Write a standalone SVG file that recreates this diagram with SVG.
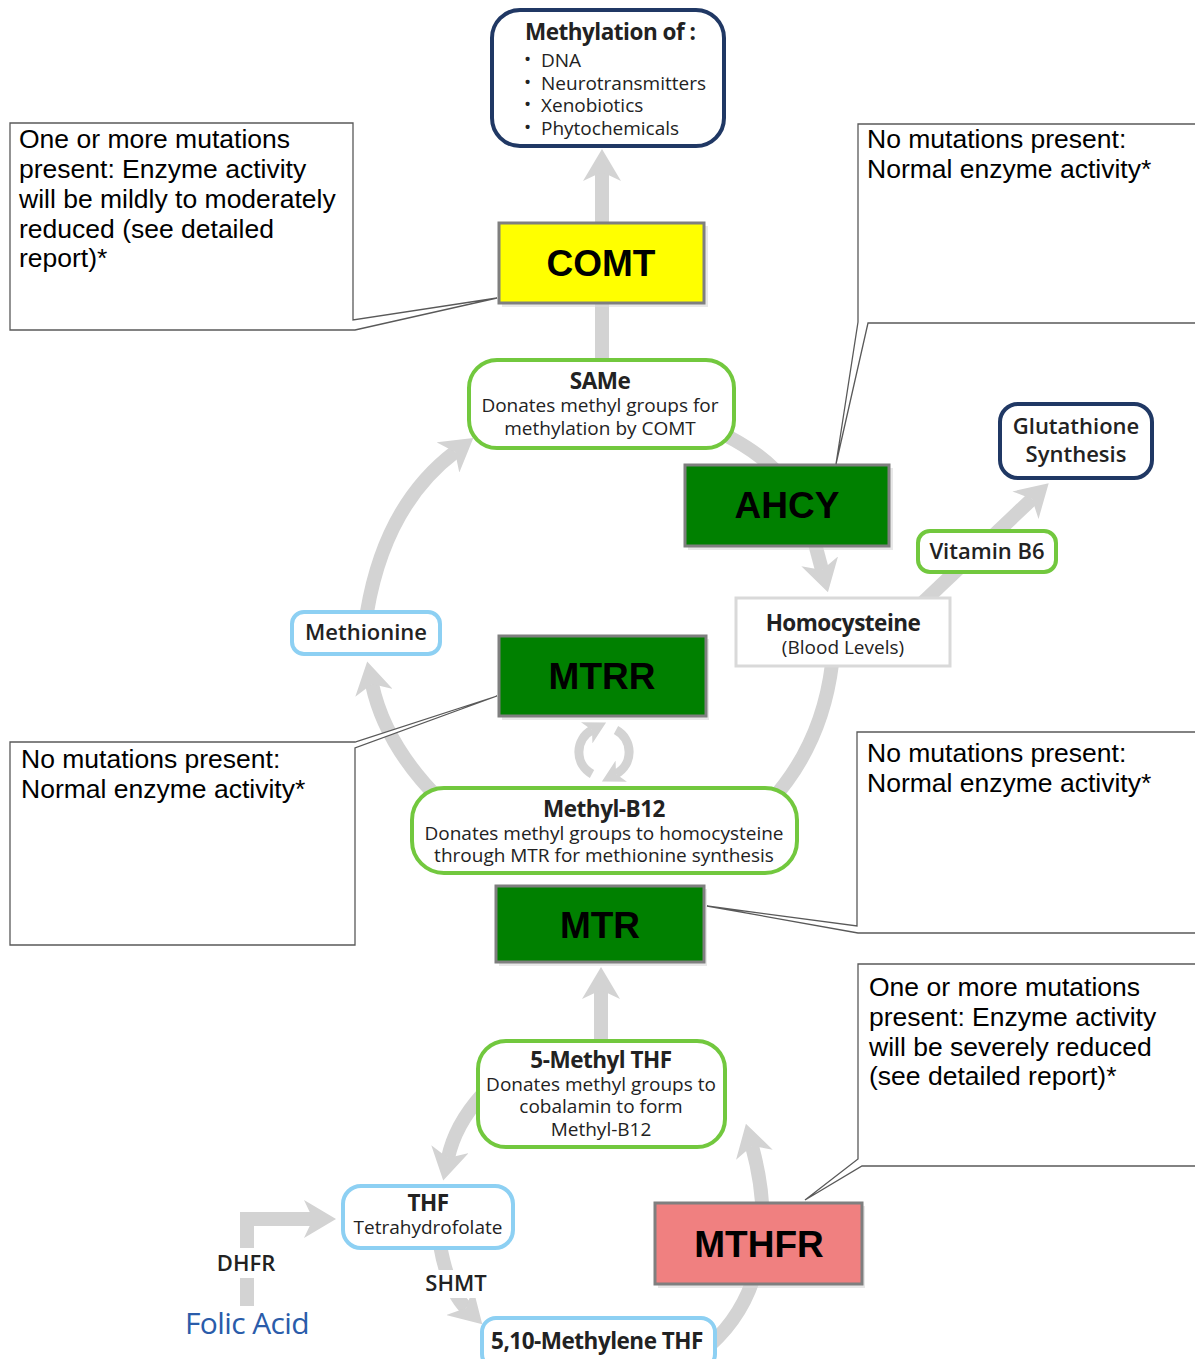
<svg xmlns="http://www.w3.org/2000/svg" width="1195" height="1359" viewBox="0 0 1195 1359">
<defs>
<marker id="ah" markerUnits="userSpaceOnUse" markerWidth="32" markerHeight="38" viewBox="0 0 32 38" refX="9" refY="19" orient="auto">
<path d="M0,0 L32,19 L0,38 L9,19 Z" fill="#d3d3d3"/>
</marker>
<marker id="ahs" markerUnits="userSpaceOnUse" markerWidth="22" markerHeight="24" viewBox="0 0 22 24" refX="6" refY="12" orient="auto">
<path d="M0,0 L22,12 L0,24 L6,12 Z" fill="#d3d3d3"/>
</marker>
</defs>
<style>
.arr{fill:none;stroke:#d3d3d3;stroke-width:14}
.cyc{fill:none;stroke:#d3d3d3;stroke-width:9}
.navy{fill:#fff;stroke:#203864;stroke-width:4}
.grn{fill:#fff;stroke:#72c83e;stroke-width:4}
.blue{fill:#fff;stroke:#8dd0f3;stroke-width:4}
.enz{stroke:#7f7f7f;stroke-width:3}
.shd{fill:#d9d9d9;opacity:0.6}
.et{font-family:"Liberation Sans",Arial,sans-serif;font-weight:700;font-size:37px;fill:#000;text-anchor:middle}
.t{font-family:"Open Sans","Noto Sans",sans-serif;fill:#222;text-anchor:middle}
.l{text-anchor:start}
.b{font-weight:700;font-size:22.5px;letter-spacing:-0.5px}
.s{font-size:19px}
.m{font-weight:600;font-size:22px}
.co{fill:#fff;stroke:#595959;stroke-width:1.3}
.ct{font-family:"Liberation Sans",Arial,sans-serif;font-size:26.5px;fill:#000}
</style>

<g id="connectors">
<path class="arr" d="M602,222 L602,172" marker-end="url(#ah)"/>
<path class="arr" d="M602,303 L602,362"/>
<path class="arr" d="M690,420 Q745,440 775,470"/>
<path class="arr" d="M814,540 L822,570" marker-end="url(#ah)"/>
<path class="arr" d="M918,607 L1032,499" marker-end="url(#ah)"/>
<path class="arr" d="M832,664 Q822,745 770,802"/>
<path class="arr" d="M440,800 Q385,745 372,684" marker-end="url(#ah)"/>
<path class="arr" d="M367,612 Q385,505 455,452" marker-end="url(#ah)"/>
<path class="cyc" d="M592,774 A25,25 0 0 1 592,730" marker-end="url(#ahs)"/>
<path class="cyc" d="M616,730 A25,25 0 0 1 616,774" marker-end="url(#ahs)"/>
<path class="arr" d="M601,1042 L601,990" marker-end="url(#ah)"/>
<path class="arr" d="M482,1095 Q455,1125 448,1158" marker-end="url(#ah)"/>
<path class="arr" d="M440,1245 Q448,1290 466,1308" marker-end="url(#ah)"/>
<path class="arr" d="M247,1306 L247,1219 L313,1219" marker-end="url(#ah)"/>
<path class="arr" d="M710,1345 C760,1300 775,1230 752,1146" marker-end="url(#ah)"/>
<rect x="212" y="1248" width="70" height="30" fill="#fff"/>
<text class="t m" x="246" y="1271" font-size="21">DHFR</text>
<rect x="422" y="1270" width="68" height="28" fill="#fff"/>
<text class="t m" x="456" y="1291" font-size="21">SHMT</text>
</g>

<g id="methylation">
<rect class="navy" x="492" y="10" width="232" height="136" rx="28"/>
<text class="t b l" x="525" y="40">Methylation of :</text>
<text class="t s l" x="524" y="66">•</text><text class="t s l" x="541" y="67">DNA</text>
<text class="t s l" x="524" y="89">•</text><text class="t s l" x="541" y="90">Neurotransmitters</text>
<text class="t s l" x="524" y="111">•</text><text class="t s l" x="541" y="112">Xenobiotics</text>
<text class="t s l" x="524" y="134">•</text><text class="t s l" x="541" y="135">Phytochemicals</text>
</g>

<g id="comt">
<rect class="shd" x="502" y="226" width="206" height="81"/>
<rect class="enz" x="499" y="223" width="205" height="80" fill="#ffff00"/>
<text class="et" x="601" y="276">COMT</text>
</g>

<g id="same">
<rect class="grn" x="469" y="360" width="265" height="88" rx="28"/>
<text class="t b" x="600" y="389">SAMe</text>
<text class="t s" x="600" y="412">Donates methyl groups for</text>
<text class="t s" x="600" y="435">methylation by COMT</text>
</g>

<g id="ahcy">
<rect class="shd" x="688" y="468" width="205" height="82"/>
<rect class="enz" x="685" y="465" width="204" height="81" fill="#008000"/>
<text class="et" x="787" y="518">AHCY</text>
</g>

<g id="homocysteine">
<rect x="736" y="598" width="214" height="68" fill="#fff" stroke="#d9d9d9" stroke-width="3"/>
<text class="t b" x="843" y="631">Homocysteine</text>
<text class="t s" x="843" y="654">(Blood Levels)</text>
</g>

<g id="vitaminb6">
<rect class="grn" x="918" y="531" width="138" height="41" rx="12"/>
<text class="t m" x="987" y="559">Vitamin B6</text>
</g>

<g id="glutathione">
<rect class="navy" x="1000" y="404" width="152" height="74" rx="18"/>
<text class="t m" x="1076" y="434" font-size="23">Glutathione</text>
<text class="t m" x="1076" y="462" font-size="23">Synthesis</text>
</g>

<g id="methionine">
<rect class="blue" x="292" y="612" width="148" height="42" rx="12"/>
<text class="t m" x="366" y="640">Methionine</text>
</g>

<g id="mtrr">
<rect class="shd" x="502" y="639" width="207" height="81"/>
<rect class="enz" x="499" y="636" width="207" height="80" fill="#008000"/>
<text class="et" x="602" y="689">MTRR</text>
</g>

<g id="methylb12">
<rect class="grn" x="412" y="788" width="385" height="85" rx="32"/>
<text class="t b" x="604" y="817">Methyl-B12</text>
<text class="t s" x="604" y="840">Donates methyl groups to homocysteine</text>
<text class="t s" x="604" y="862">through MTR for methionine synthesis</text>
</g>

<g id="mtr">
<rect class="shd" x="499" y="889" width="208" height="77"/>
<rect class="enz" x="496" y="886" width="208" height="76" fill="#008000"/>
<text class="et" x="600" y="938">MTR</text>
</g>

<g id="methylthf">
<rect class="grn" x="478" y="1041" width="247" height="106" rx="28"/>
<text class="t b" x="601" y="1068">5-Methyl THF</text>
<text class="t s" x="601" y="1091">Donates methyl groups to</text>
<text class="t s" x="601" y="1113">cobalamin to form</text>
<text class="t s" x="601" y="1136">Methyl-B12</text>
</g>

<g id="thf">
<rect class="blue" x="343" y="1186" width="170" height="62" rx="18"/>
<text class="t b" x="428" y="1211">THF</text>
<text class="t s" x="428" y="1234">Tetrahydrofolate</text>
</g>

<g id="folicacid">
<text x="247" y="1334" font-family="'Open Sans','Noto Sans',sans-serif" font-size="30" fill="#2a5caa" text-anchor="middle" letter-spacing="-0.6">Folic Acid</text>
</g>

<g id="methylenethf">
<rect class="blue" x="482" y="1318" width="233" height="50" rx="14"/>
<text class="t b" x="597" y="1349">5,10-Methylene THF</text>
</g>

<g id="mthfr">
<rect class="shd" x="658" y="1206" width="207" height="82"/>
<rect class="enz" x="655" y="1203" width="207" height="81" fill="#f08080"/>
<text class="et" x="759" y="1257">MTHFR</text>
</g>

<g id="callout-comt">
<path class="co" d="M10,123 L353,123 L353,320 L497,298 L355,330 L10,330 Z"/>
<text class="ct" x="19" y="148">One or more mutations</text>
<text class="ct" x="19" y="178">present: Enzyme activity</text>
<text class="ct" x="19" y="208">will be mildly to moderately</text>
<text class="ct" x="19" y="238">reduced (see detailed</text>
<text class="ct" x="19" y="267">report)*</text>
</g>

<g id="callout-ahcy">
<path class="co" d="M1200,124 L858,124 L858,322 L836,464 L868,323 L1200,323"/>
<text class="ct" x="867" y="148">No mutations present:</text>
<text class="ct" x="867" y="178">Normal enzyme activity*</text>
</g>

<g id="callout-mtrr">
<path class="co" d="M10,742 L355,742 L497,696 L355,748 L355,945 L10,945 Z"/>
<text class="ct" x="21" y="768">No mutations present:</text>
<text class="ct" x="21" y="798">Normal enzyme activity*</text>
</g>

<g id="callout-mtr">
<path class="co" d="M1200,732 L857,732 L857,926 L707,906 L858,933 L1200,933"/>
<text class="ct" x="867" y="762">No mutations present:</text>
<text class="ct" x="867" y="792">Normal enzyme activity*</text>
</g>

<g id="callout-mthfr">
<path class="co" d="M1200,964 L858,964 L858,1159 L805,1200 L862,1166 L1200,1166"/>
<text class="ct" x="869" y="996">One or more mutations</text>
<text class="ct" x="869" y="1026">present: Enzyme activity</text>
<text class="ct" x="869" y="1056">will be severely reduced</text>
<text class="ct" x="869" y="1085">(see detailed report)*</text>
</g>
</svg>
